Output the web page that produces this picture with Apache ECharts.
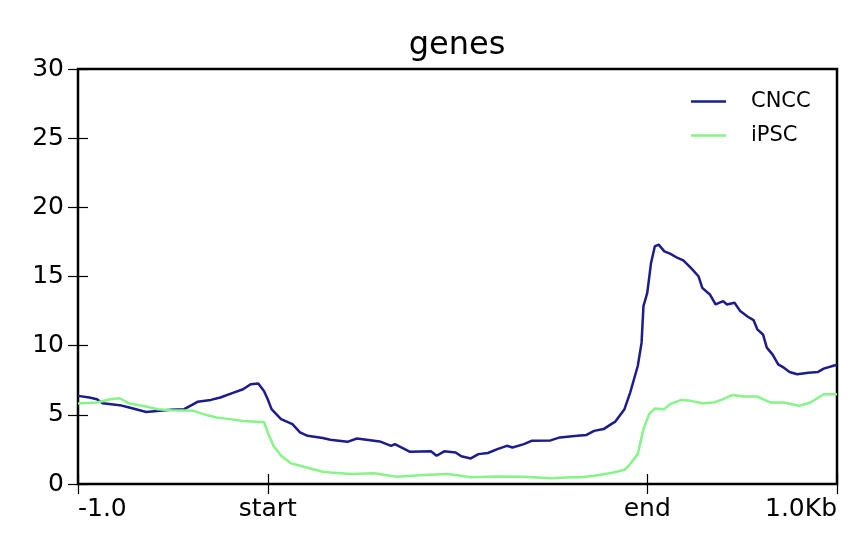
<!DOCTYPE html>
<html>
<head>
<meta charset="utf-8">
<script src="https://cdn.jsdelivr.net/npm/echarts@6/dist/echarts.min.js"></script>
<style>html,body{margin:0;padding:0;background:#fff}#c{width:866px;height:551px}</style>
</head>
<body>
<div id="c"></div>
<script>
const titleText = 'genes';
const seriesNames = ['CNCC', 'iPSC'];
const xTickBins = [0, 100, 300, 400];
const xTickLabels = ['-1.0', 'start', 'end', '1.0Kb'];
const yTicks = [0, 5, 10, 15, 20, 25, 30];

const cnccBins = [0, 6, 10, 13, 22, 27, 36, 43, 49, 56, 63, 70, 75, 82, 87, 91, 95, 98, 100, 102, 107, 113, 117, 121, 129, 133, 142, 147, 159, 165, 167, 175, 186, 189, 193, 199, 202, 207, 211, 216, 221, 226, 229, 235, 239, 249, 254, 263, 268, 272, 277, 281, 283, 288, 291, 295, 297, 298, 300, 302, 304, 306, 309, 312, 316, 319, 323, 327, 329, 333, 336, 340, 342, 346, 349, 353, 356, 358, 361, 363, 366, 369, 372, 375, 379, 385, 390, 393, 399, 400];
const cnccValues = [6.37, 6.25, 6.13, 5.84, 5.7, 5.53, 5.21, 5.29, 5.36, 5.41, 5.94, 6.08, 6.25, 6.61, 6.85, 7.21, 7.26, 6.73, 6.13, 5.41, 4.69, 4.33, 3.73, 3.48, 3.32, 3.2, 3.05, 3.29, 3.08, 2.76, 2.88, 2.33, 2.36, 2.04, 2.36, 2.28, 2.0, 1.85, 2.16, 2.24, 2.52, 2.76, 2.64, 2.88, 3.12, 3.15, 3.37, 3.48, 3.55, 3.84, 3.97, 4.33, 4.49, 5.41, 6.61, 8.53, 10.2, 12.86, 13.82, 15.98, 17.18, 17.3, 16.82, 16.65, 16.34, 16.17, 15.62, 15.02, 14.18, 13.7, 12.98, 13.22, 12.98, 13.1, 12.5, 12.09, 11.85, 11.18, 10.81, 9.86, 9.37, 8.65, 8.41, 8.1, 7.93, 8.05, 8.1, 8.34, 8.58, 8.6];

const ipscBins = [0, 10, 17, 22, 27, 34, 42, 49, 61, 66, 73, 80, 87, 96, 98, 100, 103, 107, 112, 119, 129, 133, 144, 156, 168, 182, 195, 207, 221, 235, 249, 260, 265, 272, 281, 286, 288, 291, 295, 298, 301, 304, 309, 312, 318, 323, 329, 335, 339, 345, 351, 358, 365, 372, 380, 386, 393, 399, 400];
const ipscValues = [5.82, 5.89, 6.13, 6.2, 5.82, 5.65, 5.41, 5.34, 5.29, 5.05, 4.81, 4.69, 4.56, 4.49, 4.49, 3.73, 2.76, 2.04, 1.51, 1.25, 0.89, 0.84, 0.72, 0.77, 0.53, 0.65, 0.72, 0.48, 0.55, 0.53, 0.41, 0.48, 0.48, 0.6, 0.79, 0.96, 1.03, 1.44, 2.16, 3.97, 5.05, 5.46, 5.41, 5.77, 6.08, 6.01, 5.84, 5.89, 6.08, 6.44, 6.32, 6.32, 5.89, 5.89, 5.65, 5.89, 6.49, 6.49, 6.49];

const colors = ['#1c1c8c', '#86f486'];
const font = 'DejaVu Sans';

const chart = echarts.init(document.getElementById('c'), null, {renderer: 'canvas'});
const tickStyle = {color: '#000', width: 1.2};
chart.setOption({
  animation: false,
  backgroundColor: '#fff',
  title: {
    text: titleText, left: 452, top: 25, textAlign: 'center',
    textStyle: {fontFamily: font, fontSize: 32, fontWeight: 'normal', color: '#000'}
  },
  legend: {
    orient: 'vertical', left: 691, top: 91, padding: 0, icon: 'rect',
    itemWidth: 35, itemHeight: 2.5, itemGap: 13,
    data: seriesNames,
    textStyle: {fontFamily: font, fontSize: 21, color: '#000', padding: [0, 0, 0, 20]}
  },
  grid: {left: 78, right: 29, top: 69, bottom: 67, show: true, borderColor: '#000', borderWidth: 2.5, containLabel: false},
  xAxis: [{
    type: 'value', min: 0, max: 400, position: 'bottom',
    axisLine: {show: false}, splitLine: {show: false},
    axisTick: {show: true, inside: true, length: 10, lineStyle: tickStyle, customValues: xTickBins},
    axisLabel: {
      customValues: xTickBins, margin: 13, fontFamily: font, fontSize: 25, color: '#000',
      alignMinLabel: 'left', alignMaxLabel: 'right',
      formatter: v => xTickLabels[xTickBins.indexOf(v)]
    }
  }, {
    type: 'value', min: 0, max: 400, position: 'top',
    axisLine: {show: false}, splitLine: {show: false},
    axisTick: {show: true, inside: true, length: 10, lineStyle: tickStyle, customValues: xTickBins},
    axisLabel: {show: false}
  }],
  yAxis: [{
    type: 'value', min: 0, max: 30, interval: 5, position: 'left',
    axisLine: {show: false}, splitLine: {show: false},
    axisTick: {show: true, inside: true, length: 10, lineStyle: tickStyle},
    axisLabel: {margin: 14, fontFamily: font, fontSize: 25, color: '#000',
      formatter: v => yTicks.includes(v) ? String(v) : ''}
  }, {
    type: 'value', min: 0, max: 30, interval: 5, position: 'right',
    axisLine: {show: false}, splitLine: {show: false},
    axisTick: {show: true, inside: true, length: 10, lineStyle: tickStyle},
    axisLabel: {show: false}
  }],
  series: [
    {name: seriesNames[0], type: 'line', symbol: 'none', smooth: false, color: colors[0],
     lineStyle: {width: 2.5, color: colors[0]},
     data: cnccBins.map((b, i) => [b, cnccValues[i]])},
    {name: seriesNames[1], type: 'line', symbol: 'none', smooth: false, color: colors[1],
     lineStyle: {width: 2.5, color: colors[1]},
     data: ipscBins.map((b, i) => [b, ipscValues[i]])}
  ]
});
</script>
</body>
</html>
